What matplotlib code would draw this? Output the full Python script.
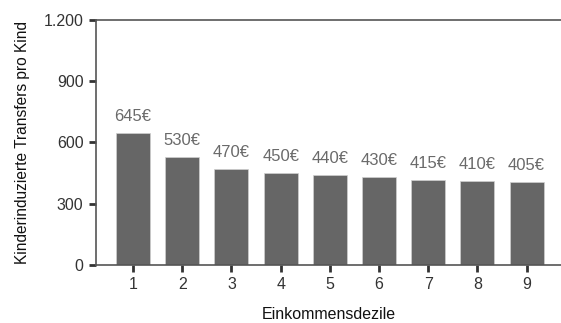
import numpy as np
import matplotlib
matplotlib.use('Agg')
import matplotlib.pyplot as plt

plt.rcParams['font.family'] = ['Liberation Sans', 'DejaVu Sans']

deciles = [1, 2, 3, 4, 5, 6, 7, 8, 9]
transfers = [645, 530, 470, 450, 440, 430, 415, 410, 405]
value_labels = ['645€', '530€', '470€', '450€', '440€', '430€', '415€', '410€', '405€']
yticks = [0, 300, 600, 900, 1200]
ytick_labels = ['0', '300', '600', '900', '1.200']

fig = plt.figure(figsize=(5.61, 3.23), dpi=100)
ax = fig.add_axes([0.171, 0.18, 0.829, 0.758])

bar_color = '#666666'
ax.bar(deciles, transfers, width=0.69, color=bar_color, edgecolor='#d0d0d0', linewidth=0.5)

for x, v, lab in zip(deciles, transfers, value_labels):
    ax.text(x, v + 45, lab, ha='center', va='bottom', fontsize=12, color='#6a6a6a')

ax.set_xlim(0.245, 9.7)
ax.set_ylim(0, 1200)
ax.set_xticks(deciles)
ax.set_yticks(yticks)
ax.set_yticklabels(ytick_labels)

spine_color = '#555555'
for s in ['left', 'bottom', 'top']:
    ax.spines[s].set_color(spine_color)
    ax.spines[s].set_linewidth(1.2)
ax.spines['right'].set_visible(False)

ax.tick_params(axis='both', direction='out', length=5, width=2, color='#333333',
               labelsize=11.5, labelcolor='#333333', pad=4)

fig.text(0.587, 0.004, 'Einkommensdezile', ha='center', va='bottom', fontsize=11.5, color='#111111')
ax.set_ylabel('Kinderinduzierte Transfers pro Kind', fontsize=11.2, color='#111111', labelpad=10)

plt.savefig('out.png', dpi=100)
